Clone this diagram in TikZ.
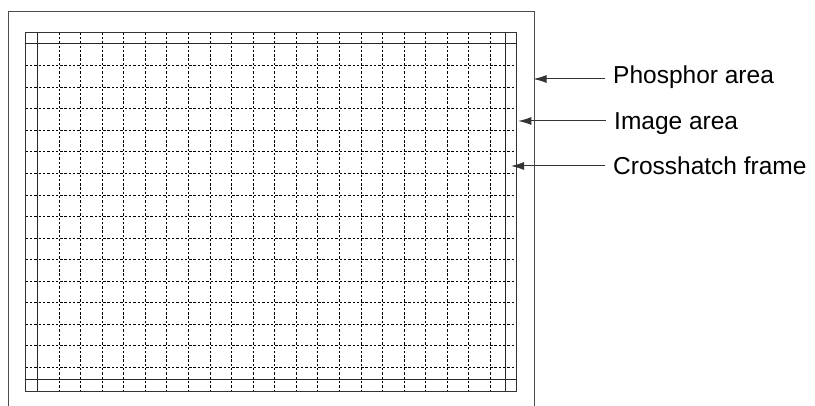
\documentclass[tikz,border=0pt]{standalone}
\usepackage{fontspec}
\setmainfont{Liberation Sans}
\usetikzlibrary{arrows.meta}
\begin{document}
\begin{tikzpicture}[x=1pt,y=-1pt,
  outerline/.style={draw=black!70, line width=0.9pt},
  imgline/.style={draw=black!80, line width=0.9pt},
  frameline/.style={draw=black!85, line width=0.9pt},
  gridline/.style={draw=black, line width=0.8pt, dash pattern=on 2.4pt off 1.9pt},
  callout/.style={draw=black!80, line width=1pt, -{Latex[length=13pt,width=8pt]}},
  lbl/.style={anchor=base west, inner sep=0pt, font=\fontsize{24.5}{29}\selectfont}]
\useasboundingbox (0,0) rectangle (815,406);
% dotted crosshatch grid
\foreach \i in {0,...,20}
  \draw[gridline] ({59+21.57*\i},32.7) -- ({59+21.57*\i},391.5);
\foreach \j in {0,...,14}
  \draw[gridline] (25.7,{65.7+21.54*\j}) -- (516.7,{65.7+21.54*\j});
% phosphor area (open at the bottom)
\draw[outerline] (8.3,407) -- (8.3,11) -- (534.5,11) -- (534.5,407);
% image area
\draw[imgline] (25.7,32.7) rectangle (516.7,391.5);
% crosshatch frame: full-length lines across the image area
\draw[frameline] (37.3,32.7) -- (37.3,391.5);
\draw[frameline] (505,32.7) -- (505,391.5);
\draw[frameline] (25.7,43.9) -- (516.7,43.9);
\draw[frameline] (25.7,379.6) -- (516.7,379.6);
% labels
\node[lbl] (phos) at (613,83.3) {Phosphor area};
\node[lbl] (img) at (614,130) {Image area};
\node[lbl] (cross) at (613,175) {Crosshatch frame};
\coordinate (phosS) at (604.5,79);
\coordinate (phosT) at (533.5,79);
\coordinate (imgS) at (605.5,121);
\coordinate (imgT) at (518.3,121);
\coordinate (crossS) at (604.5,166);
\coordinate (crossT) at (511,166);
\draw[callout] (phosS) -- (phosT);
\draw[callout] (imgS) -- (imgT);
\draw[callout] (crossS) -- (crossT);
\end{tikzpicture}
\end{document}
